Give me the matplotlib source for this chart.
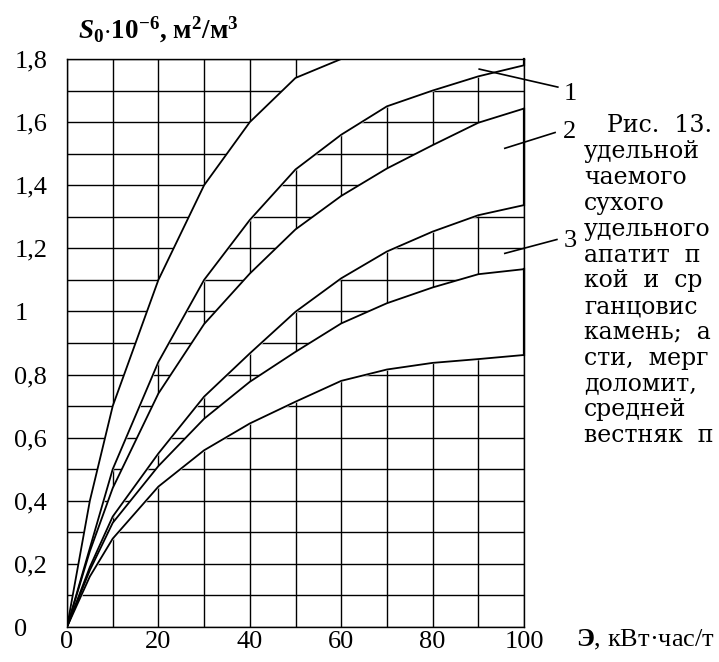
import matplotlib.pyplot as plt

plt.rcParams['font.family'] = ['Liberation Serif', 'DejaVu Serif']
plt.rcParams['mathtext.fontset'] = 'custom'
plt.rcParams['mathtext.rm'] = 'Liberation Serif'
plt.rcParams['mathtext.bf'] = 'Liberation Serif:bold'
plt.rcParams['mathtext.bfit'] = 'Liberation Serif:italic:bold'
plt.rcParams['mathtext.it'] = 'Liberation Serif:italic'

# energy, kWh/t
energy = [0, 5, 10, 20, 30, 40, 50, 60, 70, 80, 90, 100]

# band 1 (upper / lower boundary)
band1_hi = [0, 0.40, 0.70, 1.10, 1.40, 1.60, 1.74, 1.80, 1.80, 1.80, 1.80, 1.80]
band1_lo = [0, 0.25, 0.50, 0.84, 1.10, 1.29, 1.45, 1.56, 1.65, 1.70, 1.745, 1.78]
# band 2
band2_hi = [0, 0.24, 0.44, 0.74, 0.96, 1.12, 1.26, 1.366, 1.453, 1.527, 1.598, 1.643]
band2_lo = [0, 0.19, 0.35, 0.55, 0.73, 0.867, 0.999, 1.105, 1.19, 1.253, 1.305, 1.337]
# band 3
band3_hi = [0, 0.18, 0.33, 0.51, 0.66, 0.777, 0.872, 0.962, 1.026, 1.076, 1.118, 1.134]
band3_lo = [0, 0.16, 0.28, 0.445, 0.56, 0.645, 0.714, 0.78, 0.816, 0.837, 0.849, 0.862]

band_names = ['1', '2', '3']
x_ticks = [0, 20, 40, 60, 80, 100]
y_ticks = [0, 0.2, 0.4, 0.6, 0.8, 1.0, 1.2, 1.4, 1.6, 1.8]
y_labels = ['0', '0,2', '0,4', '0,6', '0,8', '1', '1,2', '1,4', '1,6', '1,8']

caption = ['Рис.  13.', 'удельной', 'чаемого', 'сухого', 'удельного',
           'апатит  п', 'кой  и  ср', 'ганцовис', 'камень;  а',
           'сти,  мерг', 'доломит,', 'средней', 'вестняк  п']

W, H = 719, 662
fig = plt.figure(figsize=(W / 100, H / 100), dpi=100)
ax = fig.add_axes([67 / W, 1 - 627 / H, 457 / W, 568 / H])

bands = [(band1_hi, band1_lo), (band2_hi, band2_lo), (band3_hi, band3_lo)]
for hi, lo in bands:
    ax.fill_between(energy, lo, hi, color='white', zorder=1)
    ax.plot(energy, hi, color='black', lw=1.3, zorder=3)
    ax.plot(energy, lo, color='black', lw=1.3, zorder=3)
    ax.plot([100, 100], [lo[-1], hi[-1]], color='black', lw=1.6, zorder=3, clip_on=False)

grid_x = list(range(0, 101, 10))
grid_y = [i / 10 for i in range(19)]
ax.set_xlim(0, 100)
ax.set_ylim(0, 1.8)
ax.set_xticks(grid_x)
ax.set_yticks(grid_y)
ax.grid(True, color='black', lw=1.0)
ax.set_axisbelow(True)
ax.set_xticklabels([str(v) if v in x_ticks else '' for v in grid_x])
ax.set_yticklabels([y_labels[y_ticks.index(round(v, 1))] if round(v, 1) in y_ticks else ''
                    for v in grid_y])
ax.tick_params(length=0, labelsize=19, pad=3)
ax.tick_params(axis='y', pad=38)
for lab in ax.get_yticklabels():
    lab.set_horizontalalignment('left')
    lab.set_verticalalignment('center_baseline')
for s in ax.spines.values():
    s.set_linewidth(1.0)

# leader lines and band numbers
leaders = [((90.2, 1.768), (107.4, 1.711), (108.6, 1.69)),
           ((95.8, 1.517), (106.8, 1.567), (108.6, 1.568)),
           ((95.8, 1.184), (107.2, 1.228), (108.6, 1.222))]
for name, (p0, p1, pt) in zip(band_names, leaders):
    ax.plot([p0[0], p1[0]], [p0[1], p1[1]], color='black', lw=1.2, clip_on=False, zorder=4)
    ax.text(pt[0], pt[1], name, fontsize=19, ha='left', va='center')

fig.text(78 / W, 1 - 30 / H,
         r'$\mathbfit{S}_\mathbf{0}\mathbf{\cdot10^{-6}}$, м$^\mathbf{2}$/м$^\mathbf{3}$',
         fontsize=19.5, fontweight='bold', ha='left', va='center')
fig.text(576 / W, 1 - 640 / H, r'$\mathbf{Э}$, кВт·час/т', fontsize=19, ha='left', va='center')

for i, line in enumerate(caption):
    x0 = 607 if i == 0 else 584
    fig.text(x0 / W, 1 - (126 + 25.8 * i) / H, line, fontsize=17,
             family='DejaVu Serif', ha='left', va='center')

fig.savefig('out.png', dpi=100)
